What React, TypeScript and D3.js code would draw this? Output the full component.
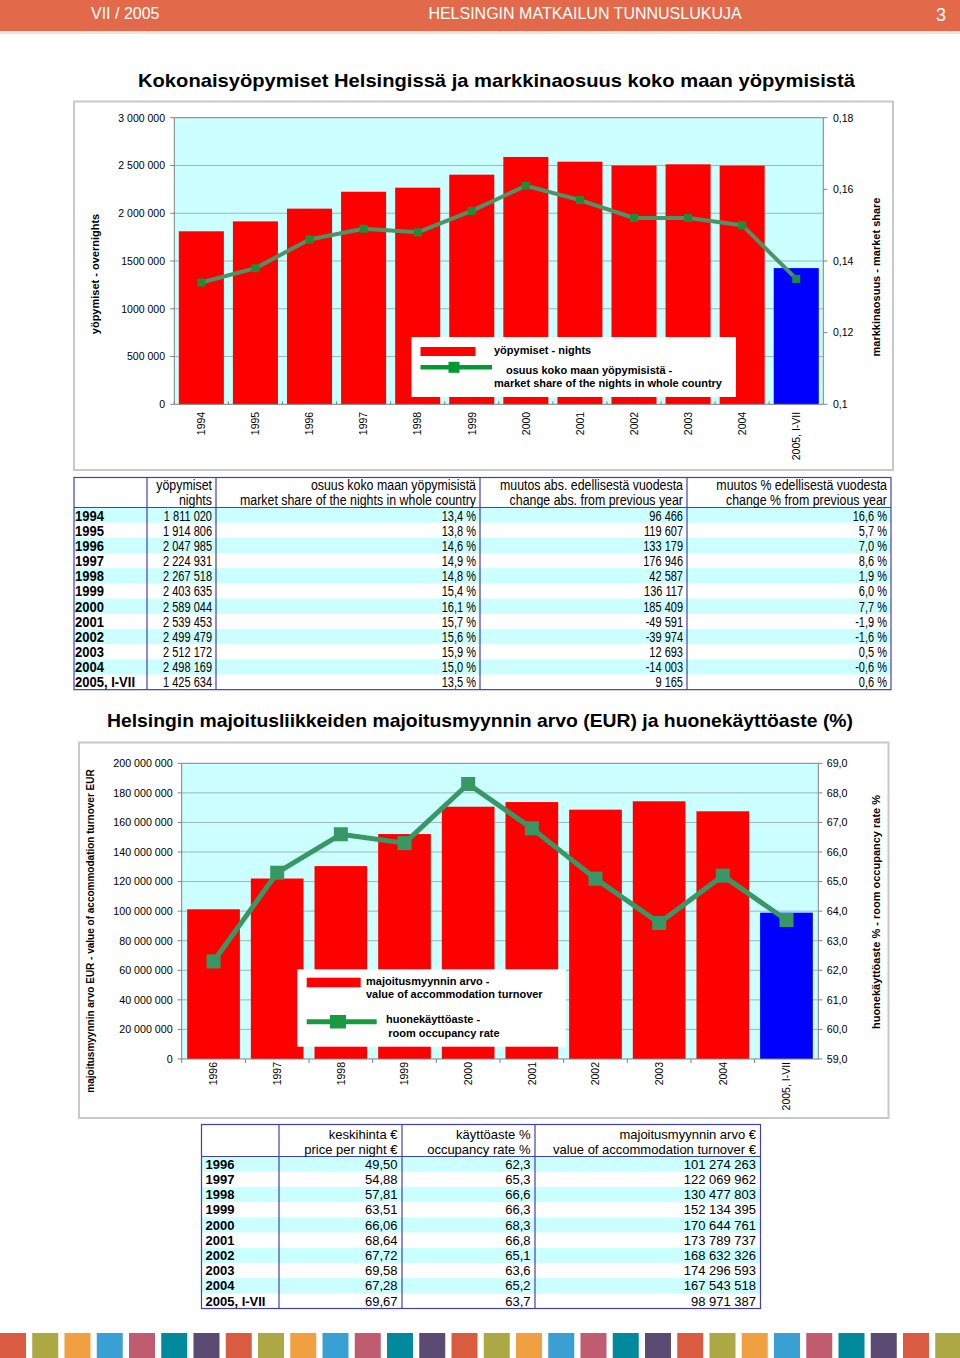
import React from 'react';
import * as d3 from 'd3';

// overnights 1994 - 2005
const years1 = ['1994', '1995', '1996', '1997', '1998', '1999', '2000', '2001', '2002', '2003', '2004', '2005, I-VII'];
const nights = [1811020, 1914806, 2047985, 2224931, 2267518, 2403635, 2589044, 2539453, 2499479, 2512172, 2498169, 1425634];
const marketShare = [13.4, 13.8, 14.6, 14.9, 14.8, 15.4, 16.1, 15.7, 15.6, 15.9, 15.0, 13.5];
// the line in the chart, as plotted (2002 and 2003 sit lower than the table says)
const marketShareLine = [13.4, 13.8, 14.6, 14.9, 14.8, 15.4, 16.1, 15.7, 15.2, 15.2, 15.0, 13.5];
const absChange = [96466, 119607, 133179, 176946, 42587, 136117, 185409, -49591, -39974, 12693, -14003, 9165];
const pctChange = [16.6, 5.7, 7.0, 8.6, 1.9, 6.0, 7.7, -1.9, -1.6, 0.5, -0.6, 0.6];

const ticks1Left = ['0', '500 000', '1000 000', '1500 000', '2 000 000', '2 500 000', '3 000 000'];
const ticks1Right = ['0,1', '0,12', '0,14', '0,16', '0,18'];

// accommodation turnover 1996 - 2005
const years2 = ['1996', '1997', '1998', '1999', '2000', '2001', '2002', '2003', '2004', '2005, I-VII'];
const pricePerNight = [49.5, 54.88, 57.81, 63.51, 66.06, 68.64, 67.72, 69.58, 67.28, 69.67];
const occupancy = [62.3, 65.3, 66.6, 66.3, 68.3, 66.8, 65.1, 63.6, 65.2, 63.7];
const turnover = [101274263, 122069962, 130477803, 152134395, 170644761, 173789737, 168632326, 174296593, 167543518, 98971387];

const ticks2Left = ['0', '20 000 000', '40 000 000', '60 000 000', '80 000 000', '100 000 000', '120 000 000', '140 000 000', '160 000 000', '180 000 000', '200 000 000'];
const ticks2Right = ['59,0', '60,0', '61,0', '62,0', '63,0', '64,0', '65,0', '66,0', '67,0', '68,0', '69,0'];

const stripeColors = ['#d95b40', '#aca844', '#f0a040', '#3a9fd2', '#c05c70', '#008a9c', '#5b4a72'];

const FONT = 'Arial, "Liberation Sans", Helvetica, sans-serif';
const CYAN = '#ccffff';
const GRID = '#9db6b6';
const TABLE_LINE = '#4040b0';

const fmtInt = (v: number) => d3.format(',')(v).replace(/,/g, ' ').replace('\u2212', '-');
const fmtDec = (v: number, d: number) => v.toFixed(d).replace('.', ',');

// narrow text: the first table uses a condensed face, so squeeze Arial horizontally
function NText(props: { x: number; y: number; sx: number; anchor?: string; bold?: boolean; size?: number; children: React.ReactNode }) {
  return (
    <text transform={`translate(${props.x},${props.y}) scale(${props.sx},1)`} textAnchor={props.anchor || 'start'}
      fontWeight={props.bold ? 'bold' : 'normal'} fontSize={props.size}>
      {props.children}
    </text>
  );
}

function Chart1() {
  const left = 174.3, right = 823.3, top = 117.7, bottom = 404.3;
  const x = d3.scaleBand<string>().domain(years1).range([left, right]).paddingInner(0.167).paddingOuter(0.0835);
  const yL = d3.scaleLinear().domain([0, 3000000]).range([bottom, top]);
  const yR = d3.scaleLinear().domain([0.1, 0.18]).range([bottom, top]);
  const cx = (i: number) => x(years1[i])! + x.bandwidth() / 2;
  const line = d3.line<number>().x((_, i) => cx(i)).y((d) => yR(d / 100));
  const leftVals = d3.range(0, 3000001, 500000);
  const rightVals = d3.range(0.1, 0.1801, 0.02);
  const step = x.step();

  return (
    <g fontFamily={FONT}>
      <rect x={74} y={101.5} width={819} height={368.5} fill="#fff" stroke="#c8c8c8" strokeWidth={2} />
      <rect x={left} y={top} width={right - left} height={bottom - top} fill={CYAN} />
      {leftVals.slice(1, -1).map((v) => (
        <line key={v} x1={left} x2={right} y1={yL(v)} y2={yL(v)} stroke={GRID} strokeWidth={1} />
      ))}
      {nights.map((v, i) => (
        <rect key={i} x={x(years1[i])} y={yL(v)} width={x.bandwidth()} height={bottom - yL(v)}
          fill={i === nights.length - 1 ? '#0000ff' : '#ff0000'} />
      ))}
      {/* axes */}
      <line x1={left} x2={left} y1={top} y2={bottom} stroke="#808080" />
      <line x1={right} x2={right} y1={top} y2={bottom} stroke="#808080" />
      <line x1={left} x2={right} y1={bottom} y2={bottom} stroke="#808080" />
      <line x1={left} x2={right} y1={top} y2={top} stroke="#808080" />
      {leftVals.map((v, i) => (
        <g key={v}>
          <line x1={left - 4} x2={left} y1={yL(v)} y2={yL(v)} stroke="#808080" />
          <text x={165} y={yL(v) + 3.8} textAnchor="end" fontSize={10.5}>{ticks1Left[i]}</text>
        </g>
      ))}
      {rightVals.map((v, i) => (
        <g key={i}>
          <line x1={right} x2={right + 4} y1={yR(v)} y2={yR(v)} stroke="#808080" />
          <text x={833} y={yR(v) + 3.8} fontSize={10.5}>{ticks1Right[i]}</text>
        </g>
      ))}
      {years1.map((y, i) => (
        <g key={y}>
          <line x1={x(y)! - (step - x.bandwidth()) / 2} x2={x(y)! - (step - x.bandwidth()) / 2} y1={bottom - 3} y2={bottom} stroke="#808080" />
          <text transform={`translate(${cx(i) + 3.8},${bottom + 7.5}) rotate(-90)`} textAnchor="end" fontSize={10.5}>{y}</text>
        </g>
      ))}
      <path d={line(marketShareLine)!} fill="none" stroke="#4b9468" strokeWidth={4} strokeLinejoin="round" />
      {marketShareLine.map((v, i) => (
        <rect key={i} x={cx(i) - 4} y={yR(v / 100) - 4} width={8} height={8} fill="#1f8c3a" />
      ))}
      {/* legend */}
      <rect x={411.5} y={337} width={324.5} height={60} fill="#fff" />
      <rect x={420.5} y={347} width={55} height={9} fill="#ff0000" />
      <line x1={420.5} x2={492} y1={367.3} y2={367.3} stroke="#009933" strokeWidth={4.5} />
      <rect x={448.5} y={361.8} width={11} height={11} fill="#009933" />
      <g fontWeight="bold" fontSize={11}>
        <text x={494} y={353.5}>yöpymiset - nights</text>
        <text x={506} y={373.5}>osuus koko maan yöpymisistä -</text>
        <text x={494} y={387}>market share of the nights in whole country</text>
      </g>
      <text transform="translate(99,274) rotate(-90)" textAnchor="middle" fontWeight="bold" fontSize={11}>yöpymiset - overnights</text>
      <text transform="translate(879.5,277) rotate(-90)" textAnchor="middle" fontWeight="bold" fontSize={11}>markkinaosuus - market share</text>
    </g>
  );
}

function Chart2() {
  const left = 181.7, right = 818.3, top = 763.3, bottom = 1059;
  const x = d3.scaleBand<string>().domain(years2).range([left, right]).paddingInner(0.172).paddingOuter(0.086);
  const yL = d3.scaleLinear().domain([0, 200000000]).range([bottom, top]);
  const yR = d3.scaleLinear().domain([59, 69]).range([bottom, top]);
  const cx = (i: number) => x(years2[i])! + x.bandwidth() / 2;
  const line = d3.line<number>().x((_, i) => cx(i)).y((d) => yR(d));
  const leftVals = d3.range(0, 200000001, 20000000);
  const rightVals = d3.range(59, 69.01, 1);
  const step = x.step();

  return (
    <g fontFamily={FONT}>
      <rect x={79} y={742.5} width={809.5} height={375.5} fill="#fff" stroke="#c8c8c8" strokeWidth={2} />
      <rect x={left} y={top} width={right - left} height={bottom - top} fill={CYAN} />
      {leftVals.slice(1, -1).map((v) => (
        <line key={v} x1={left} x2={right} y1={yL(v)} y2={yL(v)} stroke={GRID} strokeWidth={1} />
      ))}
      {turnover.map((v, i) => (
        <rect key={i} x={x(years2[i])} y={yL(v)} width={x.bandwidth()} height={bottom - yL(v)}
          fill={i === turnover.length - 1 ? '#0000ff' : '#ff0000'} />
      ))}
      <line x1={left} x2={left} y1={top} y2={bottom} stroke="#808080" />
      <line x1={right} x2={right} y1={top} y2={bottom} stroke="#808080" />
      <line x1={left} x2={right} y1={bottom} y2={bottom} stroke="#808080" />
      <line x1={left} x2={right} y1={top} y2={top} stroke="#808080" />
      {leftVals.map((v, i) => (
        <g key={v}>
          <line x1={left - 4} x2={left} y1={yL(v)} y2={yL(v)} stroke="#808080" />
          <text x={172.7} y={yL(v) + 3.8} textAnchor="end" fontSize={10.7}>{ticks2Left[i]}</text>
        </g>
      ))}
      {rightVals.map((v, i) => (
        <g key={i}>
          <line x1={right} x2={right + 4} y1={yR(v)} y2={yR(v)} stroke="#808080" />
          <text x={826.7} y={yR(v) + 3.8} fontSize={10.7}>{ticks2Right[i]}</text>
        </g>
      ))}
      {years2.map((y, i) => (
        <g key={y}>
          <line x1={x(y)! - (step - x.bandwidth()) / 2} x2={x(y)! - (step - x.bandwidth()) / 2} y1={bottom} y2={bottom + 4} stroke="#808080" />
          <text transform={`translate(${cx(i) + 3.8},${bottom + 3}) rotate(-90)`} textAnchor="end" fontSize={10.5}>{y}</text>
        </g>
      ))}
      <path d={line(occupancy)!} fill="none" stroke="#379866" strokeWidth={5} strokeLinejoin="round" />
      {occupancy.map((v, i) => (
        <rect key={i} x={cx(i) - 7} y={yR(v) - 7} width={14} height={14} fill="#379866" />
      ))}
      {/* legend */}
      <rect x={297.3} y={969.3} width={268.7} height={77.4} fill="#fff" />
      <rect x={306.7} y={977.7} width={54} height={9.6} fill="#ff0000" />
      <line x1={306.7} x2={376.7} y1={1021.7} y2={1021.7} stroke="#1a9a40" strokeWidth={5} />
      <rect x={330} y={1015} width={16} height={13.5} fill="#1a9a40" />
      <g fontWeight="bold" fontSize={11}>
        <text x={366} y={984.5}>majoitusmyynnin arvo -</text>
        <text x={366} y={997.5}>value of accommodation turnover</text>
        <text x={386} y={1023}>huonekäyttöaste -</text>
        <text x={388.3} y={1036.5}>room occupancy rate</text>
      </g>
      <text transform="translate(93.5,931) rotate(-90)" textAnchor="middle" fontWeight="bold" fontSize={10}>majoitusmyynnin arvo EUR - value of accommodation turnover EUR</text>
      <text transform="translate(880,912) rotate(-90)" textAnchor="middle" fontWeight="bold" fontSize={11}>huonekäyttöaste % - room occupancy rate %</text>
    </g>
  );
}

function Table1() {
  const cols = [74, 147, 216, 480, 687, 891];
  const top = 477.5, headBottom = 507.5, rowH = 15.18;
  const bottom = headBottom + rowH * years1.length;
  const heads = [
    ['yöpymiset', 'nights'],
    ['osuus koko maan yöpymisistä', 'market share of the nights in whole country'],
    ['muutos abs. edellisestä vuodesta', 'change abs. from previous year'],
    ['muutos % edellisestä vuodesta', 'change % from previous year'],
  ];
  const cells = years1.map((_, i) => [
    fmtInt(nights[i]),
    fmtDec(marketShare[i], 1) + ' %',
    fmtInt(absChange[i]),
    fmtDec(pctChange[i], 1) + ' %',
  ]);
  return (
    <g fontFamily={FONT} fontSize={15.5}>
      {years1.map((_, i) => i % 2 === 0 && (
        <rect key={i} x={cols[0]} y={headBottom + i * rowH} width={cols[5] - cols[0]} height={rowH} fill={CYAN} />
      ))}
      <rect x={cols[0]} y={top} width={cols[5] - cols[0]} height={bottom - top} fill="none" stroke={TABLE_LINE} strokeWidth={1.2} />
      <line x1={cols[0]} x2={cols[5]} y1={headBottom} y2={headBottom} stroke={TABLE_LINE} strokeWidth={1.2} />
      {cols.slice(1, -1).map((c) => (
        <line key={c} x1={c} x2={c} y1={top} y2={bottom} stroke={TABLE_LINE} strokeWidth={1.2} />
      ))}
      {heads.map((h, j) => (
        <g key={j}>
          <NText x={cols[j + 2] - 4} y={490} sx={0.855} size={14.5} anchor="end">{h[0]}</NText>
          <NText x={cols[j + 2] - 4} y={504.5} sx={0.855} size={14.5} anchor="end">{h[1]}</NText>
        </g>
      ))}
      {years1.map((y, i) => (
        <g key={y}>
          <NText x={75} y={headBottom + i * rowH + 13} sx={0.84} bold>{y}</NText>
          {cells[i].map((c, j) => (
            <NText key={j} x={cols[j + 2] - 4} y={headBottom + i * rowH + 13} sx={0.71} anchor="end">{c}</NText>
          ))}
        </g>
      ))}
    </g>
  );
}

function Table2() {
  const cols = [201.5, 279, 402, 535, 760.5];
  const top = 1124.5, headBottom = 1156.5, rowH = 15.2;
  const bottom = headBottom + rowH * years2.length;
  const heads = [
    ['keskihinta €', 'price per night €'],
    ['käyttöaste %', 'occupancy rate %'],
    ['majoitusmyynnin arvo €', 'value of accommodation turnover €'],
  ];
  const cells = years2.map((_, i) => [
    fmtDec(pricePerNight[i], 2),
    fmtDec(occupancy[i], 1),
    fmtInt(turnover[i]),
  ]);
  return (
    <g fontFamily={FONT} fontSize={13}>
      {years2.map((_, i) => i % 2 === 0 && (
        <rect key={i} x={cols[0]} y={headBottom + i * rowH} width={cols[4] - cols[0]} height={rowH} fill={CYAN} />
      ))}
      <rect x={cols[0]} y={top} width={cols[4] - cols[0]} height={bottom - top} fill="none" stroke={TABLE_LINE} strokeWidth={1.2} />
      <line x1={cols[0]} x2={cols[4]} y1={headBottom} y2={headBottom} stroke={TABLE_LINE} strokeWidth={1.2} />
      {cols.slice(1, -1).map((c) => (
        <line key={c} x1={c} x2={c} y1={top} y2={bottom} stroke={TABLE_LINE} strokeWidth={1.2} />
      ))}
      {heads.map((h, j) => (
        <g key={j} textAnchor="end">
          <text x={cols[j + 2] - 4.5} y={1138.5}>{h[0]}</text>
          <text x={cols[j + 2] - 4.5} y={1153.5}>{h[1]}</text>
        </g>
      ))}
      {years2.map((y, i) => (
        <g key={y}>
          <text x={205.5} y={headBottom + i * rowH + 12.2} fontWeight="bold">{y}</text>
          {cells[i].map((c, j) => (
            <text key={j} x={cols[j + 2] - 4.5} y={headBottom + i * rowH + 12.2} textAnchor="end">{c}</text>
          ))}
        </g>
      ))}
    </g>
  );
}

export default function App() {
  const stripes = d3.range(30);
  return (
    <svg width={960} height={1358} style={{ position: 'absolute', left: 0, top: 0, background: '#fff' }}>
      {/* page header */}
      <rect x={0} y={31} width={960} height={3} fill="#e4e4e4" />
      <rect x={0} y={0} width={960} height={31} fill="#e26a4a" />
      <g fontFamily={FONT} fill="#fff" fontSize={16}>
        <text x={91} y={18.5}>VII / 2005</text>
        <text x={585} y={18.5} textAnchor="middle">HELSINGIN MATKAILUN TUNNUSLUKUJA</text>
        <text x={946} y={21} textAnchor="end" fontSize={18}>3</text>
      </g>

      <text x={496.5} y={87} textAnchor="middle" fontFamily={FONT} fontWeight="bold" fontSize={19}
        textLength={717} lengthAdjust="spacingAndGlyphs">
        Kokonaisyöpymiset Helsingissä ja markkinaosuus koko maan yöpymisistä
      </text>
      <Chart1 />
      <Table1 />

      <text x={480} y={727} textAnchor="middle" fontFamily={FONT} fontWeight="bold" fontSize={19}
        textLength={746} lengthAdjust="spacingAndGlyphs">
        Helsingin majoitusliikkeiden majoitusmyynnin arvo (EUR) ja huonekäyttöaste (%)
      </text>
      <Chart2 />
      <Table2 />

      {/* colour stripe footer */}
      {stripes.map((i) => (
        <rect key={i} x={i * 32.25} y={1333} width={26} height={25} fill={stripeColors[i % stripeColors.length]} />
      ))}
    </svg>
  );
}
